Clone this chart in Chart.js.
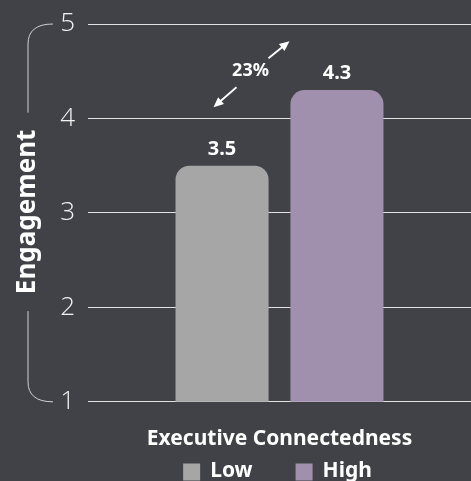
<!DOCTYPE html>
<html>
<head>
<meta charset="utf-8">
<script src="https://cdn.jsdelivr.net/npm/chart.js@4"></script>
<style>
  html, body { margin: 0; padding: 0; background: #414247; }
  #wrap { width: 471px; height: 481px; }
</style>
</head>
<body>
<div id="wrap"><canvas id="chart"></canvas></div>
<script>
// data
const categories = ['Executive Connectedness'];
const groupNames = ['Low', 'High'];
const lowValues = [3.5];
const highValues = [4.3];
const yTicks = [1, 2, 3, 4, 5];
const changeLabel = '23%';

const TEXT = '#ffffff';
const GRID = '#e2e2e2';

// y title + curly bracket on the left
const bracketPlugin = {
  id: 'bracket',
  afterDraw(chart) {
    const { ctx, scales } = chart;
    const y = scales.y;
    const top = y.getPixelForValue(5);
    const bottom = y.getPixelForValue(1);
    const mid = (top + bottom) / 2 - 1;
    const x = 28, r = 20, endX = 53;
    ctx.save();
    ctx.font = 'bold 26px "Noto Sans"';
    const half = ctx.measureText('Engagement').width / 2 + 17;
    ctx.strokeStyle = '#d0d0d0';
    ctx.lineWidth = 1;
    ctx.beginPath();
    ctx.moveTo(x, mid - half);
    ctx.lineTo(x, top + r);
    ctx.quadraticCurveTo(x, top, endX, top);
    ctx.moveTo(x, mid + half);
    ctx.lineTo(x, bottom - r);
    ctx.quadraticCurveTo(x, bottom, endX, bottom);
    ctx.stroke();
    ctx.translate(x, mid);
    ctx.rotate(-Math.PI / 2);
    ctx.fillStyle = TEXT;
    ctx.textAlign = 'center';
    ctx.textBaseline = 'middle';
    ctx.fillText('Engagement', 0, 0);
    ctx.restore();
  }
};

// value labels over the bars
const valuePlugin = {
  id: 'values',
  afterDatasetsDraw(chart) {
    const { ctx } = chart;
    ctx.save();
    ctx.font = 'bold 20px "Noto Sans"';
    ctx.fillStyle = TEXT;
    ctx.textAlign = 'center';
    ctx.textBaseline = 'alphabetic';
    chart.data.datasets.forEach((ds, i) => {
      chart.getDatasetMeta(i).data.forEach((bar, j) => {
        ctx.fillText(ds.data[j].toFixed(1), bar.x, bar.y - 11);
      });
    });
    ctx.restore();
  }
};

function arrow(ctx, x1, y1, x2, y2) {
  const a = Math.atan2(y2 - y1, x2 - x1);
  const h = 11;
  ctx.beginPath();
  ctx.moveTo(x1, y1);
  ctx.lineTo(x2 - Math.cos(a) * 6, y2 - Math.sin(a) * 6);
  ctx.stroke();
  ctx.beginPath();
  ctx.moveTo(x2, y2);
  ctx.lineTo(x2 - h * Math.cos(a - 0.42), y2 - h * Math.sin(a - 0.42));
  ctx.lineTo(x2 - h * Math.cos(a + 0.42), y2 - h * Math.sin(a + 0.42));
  ctx.closePath();
  ctx.fill();
}

// 23% change annotation
const changePlugin = {
  id: 'change',
  afterDatasetsDraw(chart) {
    const { ctx, scales } = chart;
    const low = chart.getDatasetMeta(0).data[0];
    const high = chart.getDatasetMeta(1).data[0];
    const cx = (low.x + high.x) / 2 - 29;
    const cy = scales.y.getPixelForValue(4.5);
    ctx.save();
    ctx.font = 'bold 18px "Noto Sans"';
    ctx.fillStyle = TEXT;
    ctx.strokeStyle = TEXT;
    ctx.lineWidth = 1.8;
    ctx.textAlign = 'center';
    ctx.textBaseline = 'middle';
    ctx.fillText(changeLabel, cx, cy);
    arrow(ctx, cx + 18, cy - 13, cx + 39, cy - 30);
    arrow(ctx, cx - 14, cy + 16, cx - 37, cy + 36);
    ctx.restore();
  }
};

// legend drawn by hand under the axis title
const legendPlugin = {
  id: 'customLegend',
  afterDraw(chart) {
    const { ctx, chartArea } = chart;
    const box = 17, gap = 10, between = 43;
    ctx.save();
    ctx.font = 'bold 21px "Noto Sans"';
    const items = chart.data.datasets.map(ds => ({
      text: ds.label, color: ds.backgroundColor, w: ctx.measureText(ds.label).width
    }));
    const total = items.reduce((s, it) => s + box + gap + it.w, 0) + between * (items.length - 1);
    let x = (chartArea.left + chartArea.right) / 2 - total / 2 - 2;
    const cy = 471;
    ctx.textBaseline = 'middle';
    items.forEach(it => {
      ctx.fillStyle = it.color;
      ctx.fillRect(x, cy - box / 2 + 1, box, box);
      x += box + gap;
      ctx.fillStyle = TEXT;
      ctx.fillText(it.text, x, cy);
      x += it.w + between;
    });
    ctx.restore();
  }
};

const ctx = document.getElementById('chart').getContext('2d');
new Chart(ctx, {
  type: 'bar',
  data: {
    labels: categories,
    datasets: [
      { label: groupNames[0], data: lowValues, backgroundColor: '#a6a6a6' },
      { label: groupNames[1], data: highValues, backgroundColor: '#a08fad' }
    ]
  },
  options: {
    responsive: true,
    maintainAspectRatio: false,
    animation: false,
    layout: { padding: { top: 24, right: 0, left: 0, bottom: 29 } },
    datasets: {
      bar: {
        categoryPercentage: 0.6,
        barPercentage: 0.81,
        borderRadius: { topLeft: 14, topRight: 14 },
        borderSkipped: 'bottom'
      }
    },
    plugins: {
      tooltip: { enabled: false },
      legend: { display: false }
    },
    scales: {
      x: {
        grid: { display: false },
        border: { display: false },
        ticks: { display: false },
        title: {
          display: true,
          text: categories[0],
          color: TEXT,
          padding: { top: 17, bottom: 0 },
          font: { family: 'Noto Sans', size: 21, weight: 'bold' }
        }
      },
      y: {
        min: yTicks[0],
        max: yTicks[yTicks.length - 1],
        afterFit(scale) { scale.width = 88; },
        afterBuildTicks(scale) { scale.ticks = yTicks.map(v => ({ value: v })); },
        grid: { color: GRID, lineWidth: 1, drawTicks: false },
        border: { display: false },
        ticks: {
          color: '#f2f2f2',
          padding: 13,
          font: { family: 'Open Sans', size: 26, weight: 300, lineHeight: 0.5 }
        }
      }
    }
  },
  plugins: [bracketPlugin, valuePlugin, changePlugin, legendPlugin]
});
</script>
</body>
</html>
